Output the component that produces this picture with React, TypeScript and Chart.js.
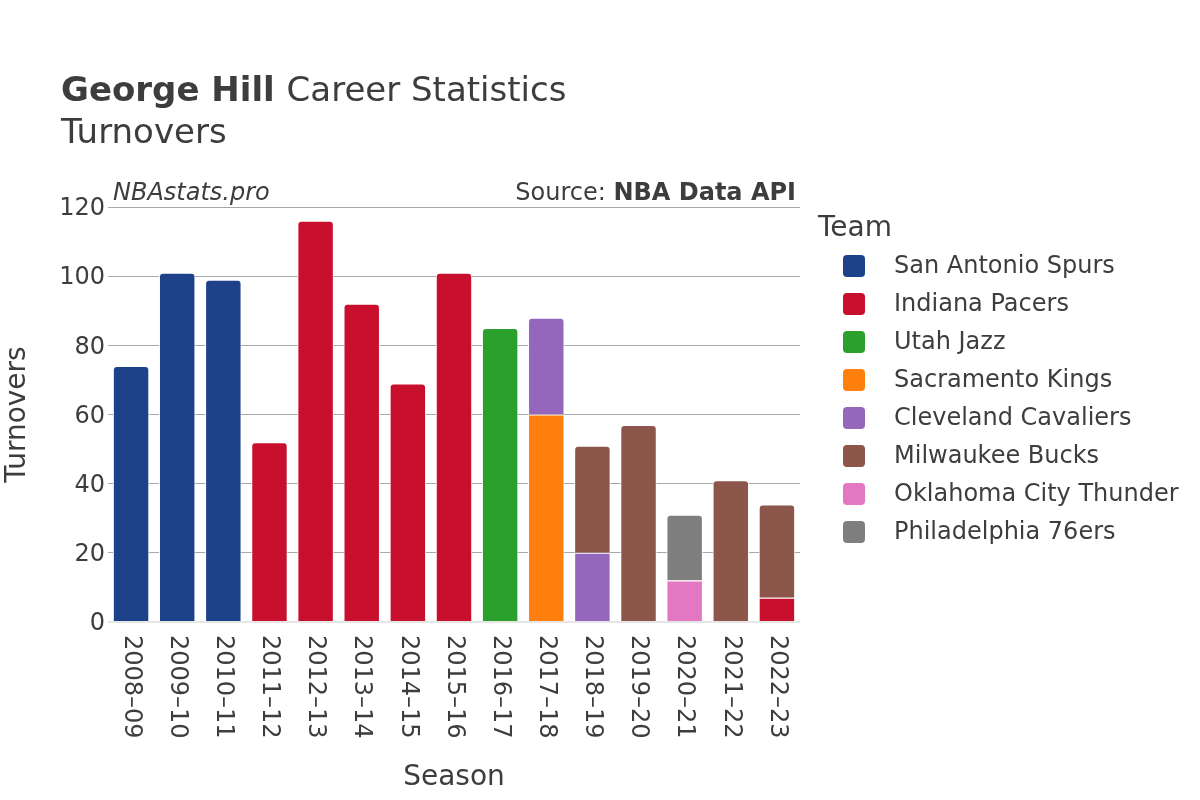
import React, { useEffect, useRef } from "react";
import { Chart, registerables } from "chart.js";

Chart.register(...registerables);

const seasons = ["2008–09","2009–10","2010–11","2011–12","2012–13","2013–14","2014–15","2015–16","2016–17","2017–18","2018–19","2019–20","2020–21","2021–22","2022–23"];
const teams = ["San Antonio Spurs","Indiana Pacers","Utah Jazz","Sacramento Kings","Cleveland Cavaliers","Milwaukee Bucks","Oklahoma City Thunder","Philadelphia 76ers"];
const teamColors = ["#1d428a","#c8102e","#2ca02c","#ff7f0e","#9467bd","#8c564b","#e377c2","#7f7f7f"];

const spurs   = [74, 101, 99, null, null, null, null, null, null, null, null, null, null, null, null];
const pacers  = [null, null, null, 52, 116, 92, 69, 101, null, null, null, null, null, null, 7];
const jazz    = [null, null, null, null, null, null, null, null, 85, null, null, null, null, null, null];
const kings   = [null, null, null, null, null, null, null, null, null, 60, null, null, null, null, null];
const cavs    = [null, null, null, null, null, null, null, null, null, 28, 20, null, null, null, null];
const bucks   = [null, null, null, null, null, null, null, null, null, null, 31, 57, null, 41, 27];
const thunder = [null, null, null, null, null, null, null, null, null, null, null, null, 12, null, null];
const sixers  = [null, null, null, null, null, null, null, null, null, null, null, null, 19, null, null];

const seriesValues = [spurs, pacers, jazz, kings, cavs, bucks, thunder, sixers];
const yTicks = [0, 20, 40, 60, 80, 100, 120];

const TEXT = "#3d3d3d";
const FONT = "'DejaVu Sans', sans-serif";

function isTop(ds: number, idx: number) {
  for (let k = ds + 1; k < seriesValues.length; k++) {
    const v = seriesValues[k][idx];
    if (v !== null && v !== undefined && v !== 0) return false;
  }
  return true;
}

const decorPlugin = {
  id: "decor",
  afterDraw(chart: any) {
    const ctx = chart.ctx;
    const area = chart.chartArea;
    ctx.save();
    ctx.fillStyle = TEXT;
    ctx.textBaseline = "alphabetic";
    ctx.textAlign = "left";
    // title
    ctx.font = `bold 34px ${FONT}`;
    const t1 = "George Hill";
    ctx.fillText(t1, 61, 101);
    const w1 = ctx.measureText(t1 + " ").width;
    ctx.font = `34px ${FONT}`;
    ctx.fillText("Career Statistics", 61 + w1, 101);
    ctx.fillText("Turnovers", 61, 143);
    // annotations
    ctx.font = `italic 24px ${FONT}`;
    ctx.fillText("NBAstats.pro", 113, 200);
    ctx.font = `bold 24px ${FONT}`;
    const b = "NBA Data API";
    const bw = ctx.measureText(b).width;
    ctx.textAlign = "right";
    ctx.fillText(b, 796, 200);
    ctx.font = `24px ${FONT}`;
    ctx.fillText("Source: ", 796 - bw, 200);
    // x tick labels rotated clockwise
    const xs = chart.scales.x;
    ctx.font = `24px ${FONT}`;
    ctx.textAlign = "left";
    ctx.textBaseline = "middle";
    seasons.forEach((s, i) => {
      const x = xs.getPixelForValue(i);
      ctx.save();
      ctx.translate(x, area.bottom + 13);
      ctx.rotate(Math.PI / 2);
      ctx.fillText(s, 0, 0);
      ctx.restore();
    });
    // legend
    ctx.textAlign = "left";
    ctx.textBaseline = "alphabetic";
    ctx.font = `28px ${FONT}`;
    ctx.fillText("Team", 818, 236);
    ctx.font = `24px ${FONT}`;
    chart.data.datasets.forEach((d: any, i: number) => {
      const cy = 266 + i * 38;
      ctx.fillStyle = d.backgroundColor;
      ctx.beginPath();
      (ctx as any).roundRect(843, cy - 11, 22, 22, 4);
      ctx.fill();
      ctx.fillStyle = TEXT;
      ctx.textBaseline = "middle";
      ctx.fillText(d.label, 894, cy + 1);
    });
    ctx.restore();
  },
};

export default function App() {
  const ref = useRef<HTMLCanvasElement>(null);
  useEffect(() => {
    if (!ref.current) return;
    const chart = new Chart(ref.current, {
      type: "bar",
      data: {
        labels: seasons,
        datasets: teams.map((t, i) => ({
          label: t,
          data: seriesValues[i] as any,
          backgroundColor: teamColors[i],
          borderColor: "#ffffff",
          borderWidth: 1,
          borderRadius: (c: any) => (isTop(c.datasetIndex, c.dataIndex) ? { topLeft: 4, topRight: 4, bottomLeft: 0, bottomRight: 0 } : 0),
          barPercentage: 0.79,
          categoryPercentage: 1,
        })),
      },
      options: {
        responsive: false,
        animation: false,
        layout: { padding: { left: 0, top: 207, right: 400, bottom: 0 } },
        plugins: { legend: { display: false }, title: { display: false }, tooltip: { enabled: false } },
        scales: {
          x: {
            stacked: true,
            grid: { display: false },
            border: { display: false },
            ticks: { display: false },
            title: { display: true, text: "Season", color: TEXT, font: { family: FONT, size: 28 }, padding: { top: 0, bottom: 5 } },
            afterFit: (s: any) => { s.height = 178; },
          },
          y: {
            stacked: true,
            min: 0,
            max: 120,
            afterBuildTicks: (s: any) => { s.ticks = yTicks.map((v) => ({ value: v })); },
            ticks: { color: TEXT, font: { family: FONT, size: 24 }, padding: 3, labelOffset: 2 },
            grid: {
              color: (c: any) => (c.tick && c.tick.value === 0 ? "#e6e6e6" : "#a8a8a8"),
              lineWidth: (c: any) => (c.tick && c.tick.value === 0 ? 2 : 1),
              drawTicks: false,
              tickLength: 0,
            },
            border: { display: false },
            title: { display: true, text: "Turnovers", color: TEXT, font: { family: FONT, size: 28 }, padding: { top: 1, bottom: 0 } },
            afterFit: (s: any) => { s.width = 108; },
          },
        },
      },
      plugins: [decorPlugin],
    });
    return () => chart.destroy();
  }, []);
  return (
    <div style={{ position: "fixed", left: 0, top: 0, width: 1200, height: 800, background: "#fff" }}>
      <canvas ref={ref} width={1200} height={800} style={{ width: 1200, height: 800, display: "block" }} />
    </div>
  );
}
